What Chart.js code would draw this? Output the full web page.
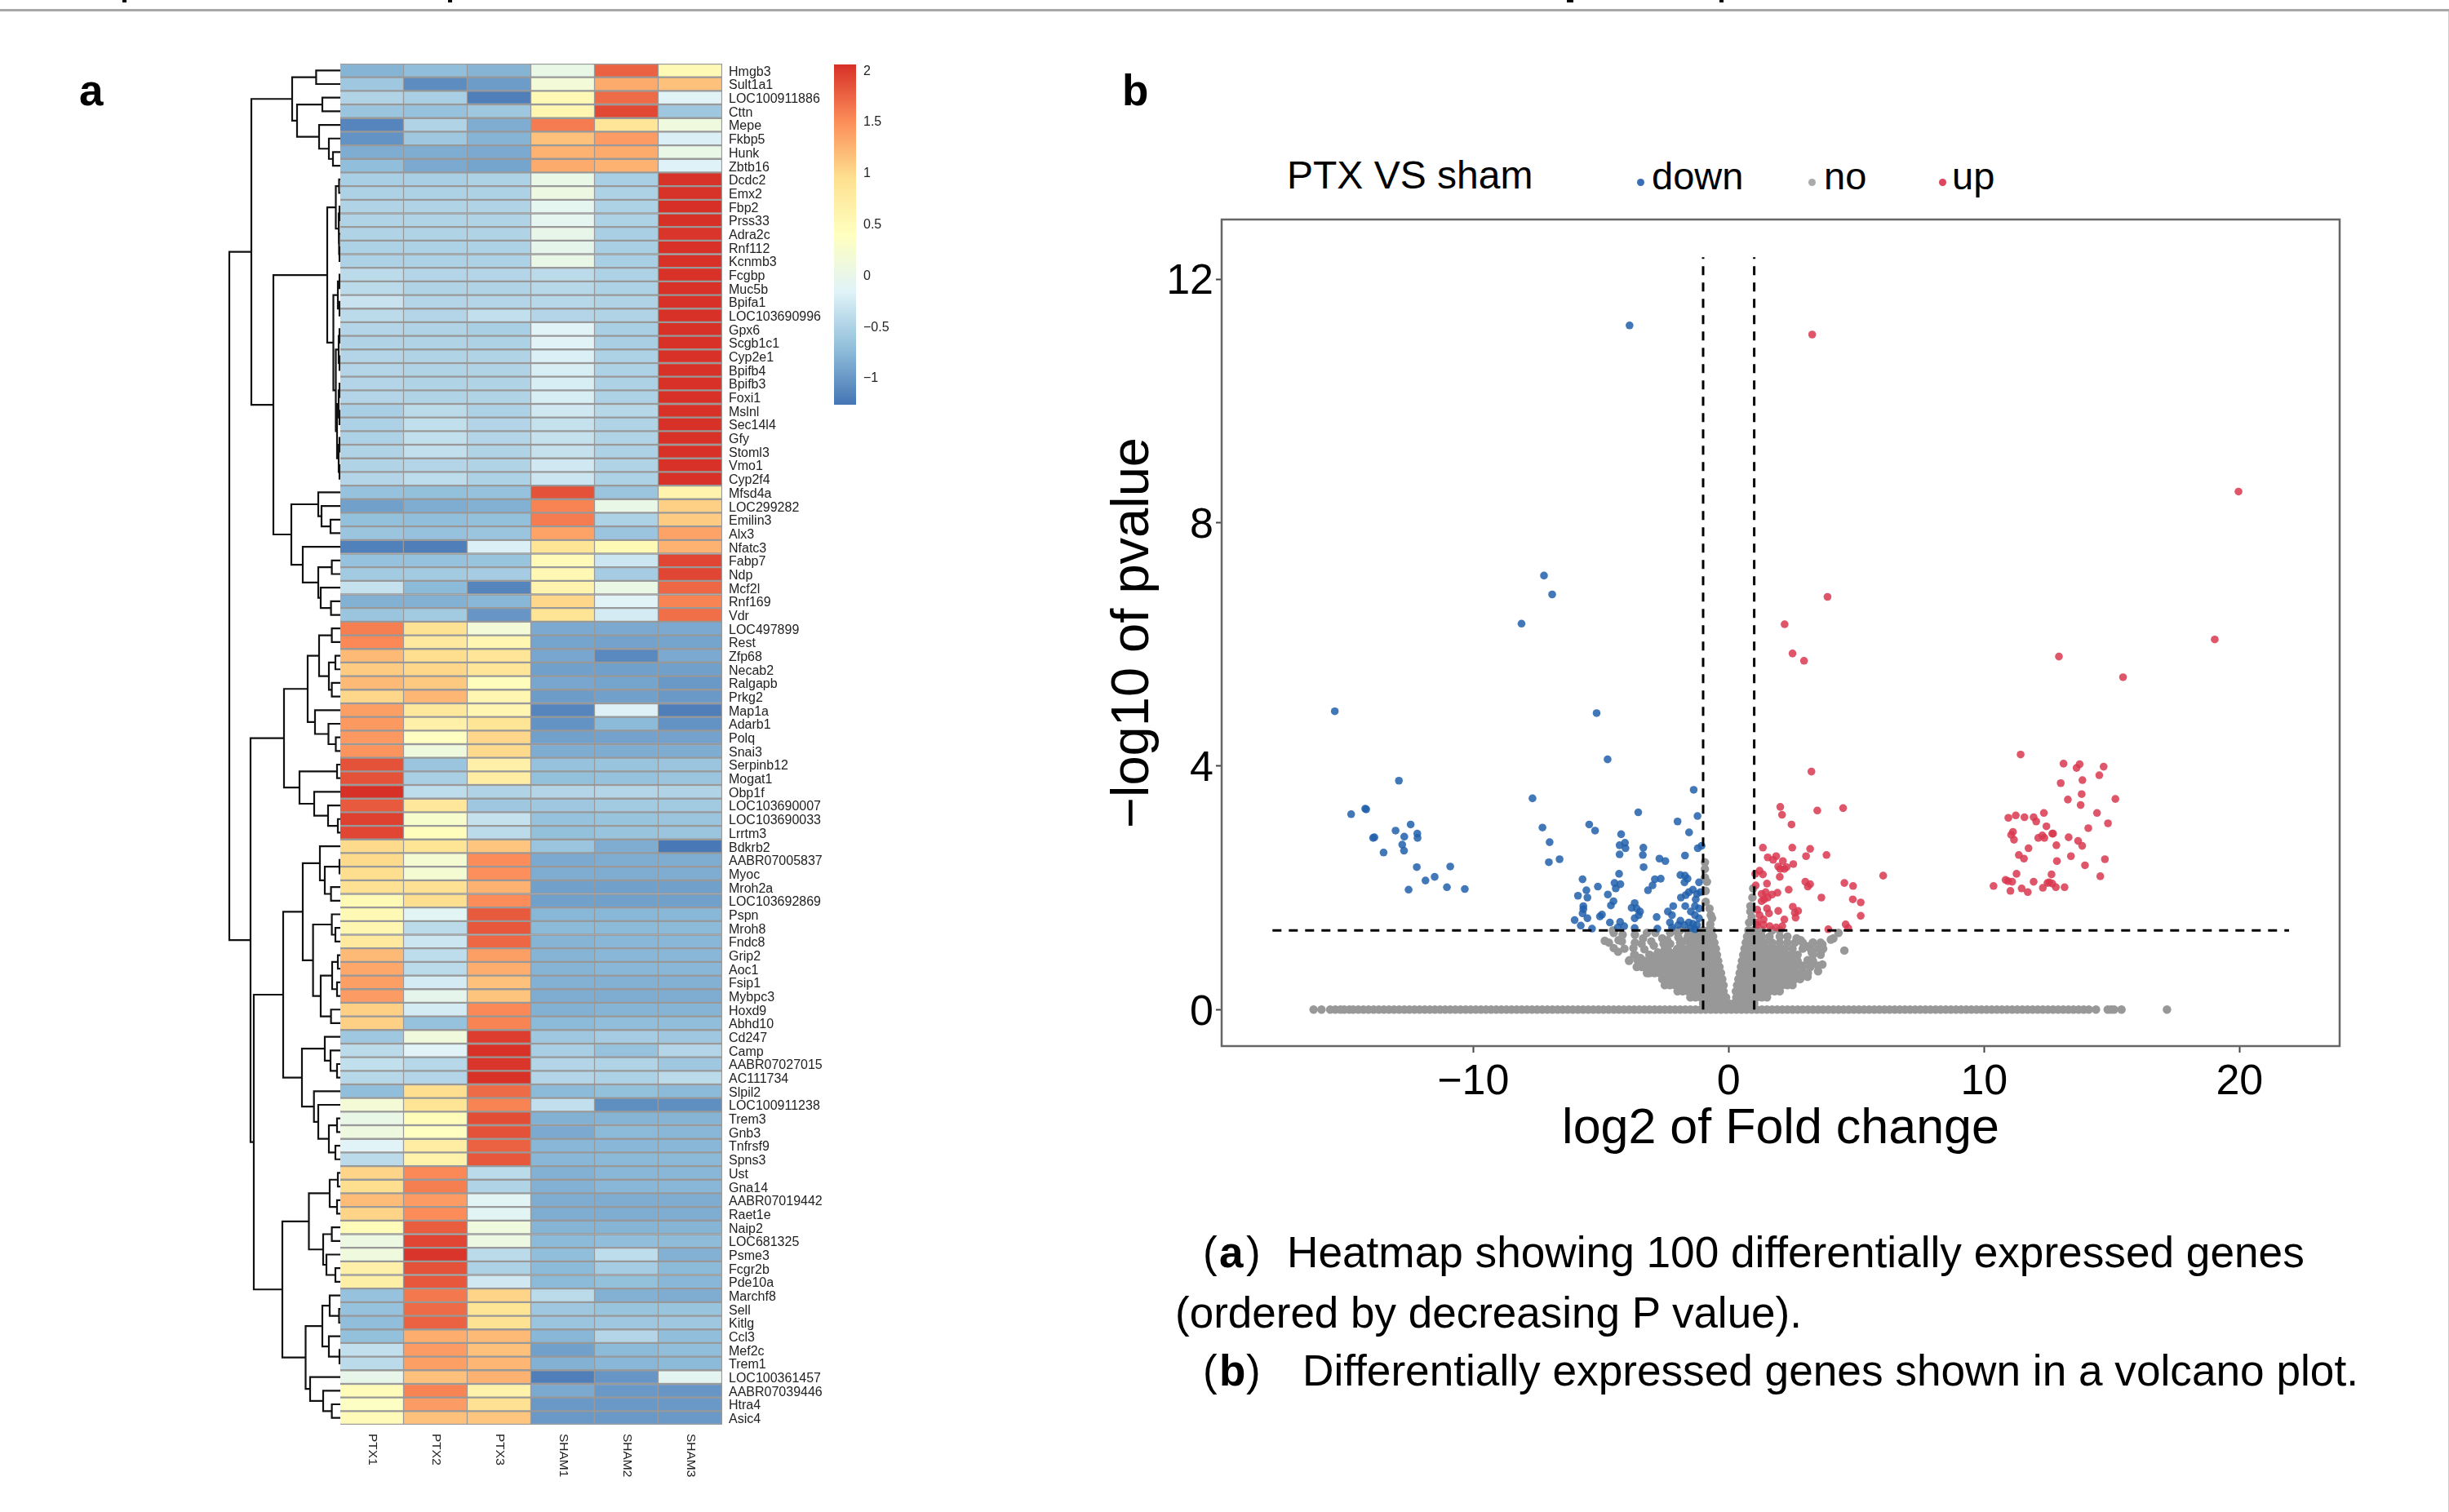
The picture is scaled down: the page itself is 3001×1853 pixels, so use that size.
<!DOCTYPE html>
<html>
<head>
<meta charset="utf-8">
<title>PTX VS sham</title>
<script src="https://cdn.jsdelivr.net/npm/chart.js@4"></script>
<style>
  html, body { margin: 0; background: #fff; }
  #page { position: relative; width: 3001px; height: 1853px; overflow: hidden; background: #fff; font-family: "Liberation Sans", sans-serif; color: #000; }
  canvas { position: absolute; }
  .txt { position: absolute; white-space: pre; line-height: 1; }
  .box { position: absolute; }
</style>
</head>
<body>
<div id="page">
  <canvas id="dendro" style="left:269px;top:78px" width="148" height="1668"></canvas>
  <canvas id="heat" style="left:417px;top:78px" width="600" height="1740"></canvas>
  <canvas id="colorbar" style="left:1022px;top:72px" width="90" height="430"></canvas>
  <canvas id="volcano" style="left:1350px;top:260px" width="1530" height="1161"></canvas>
</div>
<script>
var samples = ["PTX1", "PTX2", "PTX3", "SHAM1", "SHAM2", "SHAM3"];
var genes = ["Hmgb3", "Sult1a1", "LOC100911886", "Cttn", "Mepe", "Fkbp5", "Hunk", "Zbtb16", "Dcdc2", "Emx2",
  "Fbp2", "Prss33", "Adra2c", "Rnf112", "Kcnmb3", "Fcgbp", "Muc5b", "Bpifa1", "LOC103690996", "Gpx6",
  "Scgb1c1", "Cyp2e1", "Bpifb4", "Bpifb3", "Foxi1", "Mslnl", "Sec14l4", "Gfy", "Stoml3", "Vmo1",
  "Cyp2f4", "Mfsd4a", "LOC299282", "Emilin3", "Alx3", "Nfatc3", "Fabp7", "Ndp", "Mcf2l", "Rnf169",
  "Vdr", "LOC497899", "Rest", "Zfp68", "Necab2", "Ralgapb", "Prkg2", "Map1a", "Adarb1", "Polq",
  "Snai3", "Serpinb12", "Mogat1", "Obp1f", "LOC103690007", "LOC103690033", "Lrrtm3", "Bdkrb2", "AABR07005837", "Myoc",
  "Mroh2a", "LOC103692869", "Pspn", "Mroh8", "Fndc8", "Grip2", "Aoc1", "Fsip1", "Mybpc3", "Hoxd9",
  "Abhd10", "Cd247", "Camp", "AABR07027015", "AC111734", "Slpil2", "LOC100911238", "Trem3", "Gnb3", "Tnfrsf9",
  "Spns3", "Ust", "Gna14", "AABR07019442", "Raet1e", "Naip2", "LOC681325", "Psme3", "Fcgr2b", "Pde10a",
  "Marchf8", "Sell", "Kitlg", "Ccl3", "Mef2c", "Trem1", "LOC100361457", "AABR07039446", "Htra4", "Asic4"];

// z scores, one row per gene
var heatRows = [
  [-.8,-.72,-.8,0,1.75,.5], [-.62,-1.1,-.98,.15,1.3,1.15], [-.5,-.55,-1.2,.5,1.7,-.15], [-.65,-.68,-.62,.55,1.9,-.62],
  [-1.15,-.5,-.85,1.6,.85,.1], [-1.05,-.62,-.8,1.15,1.4,-.2], [-.85,-.85,-.88,1.25,1.3,0], [-.72,-.88,-.92,1.3,1.25,-.17],
  [-.55,-.55,-.52,0,-.55,2.03], [-.52,-.52,-.52,.05,-.52,2.03], [-.5,-.5,-.5,-.08,-.52,2.05], [-.5,-.5,-.5,-.08,-.52,2.05],
  [-.5,-.5,-.5,-.02,-.55,2.02], [-.52,-.52,-.52,-.05,-.55,2.04], [-.52,-.52,-.52,0,-.55,2.04], [-.42,-.48,-.48,-.42,-.52,2.04],
  [-.42,-.5,-.5,-.45,-.52,2.04], [-.33,-.48,-.48,-.45,-.5,2.04], [-.42,-.48,-.38,-.48,-.5,2.04], [-.48,-.5,-.55,-.15,-.55,2.04],
  [-.5,-.5,-.52,-.15,-.55,2.04], [-.48,-.5,-.5,-.2,-.52,2.04], [-.48,-.5,-.5,-.22,-.52,2.04], [-.48,-.5,-.5,-.22,-.52,2.04],
  [-.48,-.5,-.5,-.22,-.52,2.04], [-.55,-.42,-.52,-.28,-.45,2.04], [-.52,-.38,-.48,-.35,-.5,2.04], [-.52,-.38,-.48,-.35,-.5,2.04],
  [-.5,-.38,-.5,-.35,-.52,2.04], [-.5,-.48,-.5,-.28,-.5,2.04], [-.48,-.4,-.52,-.3,-.52,2.04], [-.68,-.7,-.68,1.85,-.65,.6],
  [-.95,-.85,-.82,1.55,0,1.05], [-.7,-.72,-.7,1.6,-.52,1.08], [-.65,-.68,-.65,1.35,-.65,1.35], [-1.18,-1.2,-.2,.88,.5,1.25],
  [-.68,-.68,-.66,.48,-.3,1.92], [-.6,-.6,-.58,.52,-.58,1.92], [-.35,-.75,-1.15,.6,.02,1.72], [-.82,-.82,-.78,1,-.15,1.55],
  [-.65,-.6,-1.02,.88,-.25,1.68], [1.58,.9,.15,-.88,-.88,-.88], [1.52,.78,.55,-.92,-.93,-.92], [1.2,.95,.85,-.9,-1.12,-.88],
  [1.08,1,.85,-.95,-.95,-.95], [1.2,1.1,.42,-.9,-.92,-1], [1,1.22,.55,-.98,-.95,-1], [1.38,.8,.55,-1.15,-.18,-1.2],
  [1.42,.65,.88,-1.05,-.75,-1.05], [1.42,.38,1,-.95,-.93,-.93], [1.45,.1,.98,-.85,-.85,-.85], [1.85,-.65,.65,-.68,-.66,-.65],
  [1.85,-.55,.72,-.7,-.68,-.65], [2.05,-.4,-.5,-.48,-.48,-.5], [1.8,.82,-.62,-.62,-.6,-.6], [1.95,.25,-.35,-.68,-.66,-.65],
  [1.92,.42,-.42,-.7,-.66,-.65], [.98,.88,1.12,-.65,-.85,-1.25], [.98,.2,1.5,-.88,-.85,-.85], [.95,.2,1.48,-.85,-.85,-.85],
  [.92,.92,1.25,-.95,-.95,-.95], [.5,.95,1.5,-.95,-.95,-.95], [.5,-.12,1.8,-.78,-.78,-.78], [.55,-.42,1.82,-.75,-.75,-.75],
  [.78,-.3,1.72,-.8,-.78,-.78], [1.2,-.4,1.38,-.8,-.78,-.78], [1.32,-.42,1.28,-.8,-.78,-.78], [1.38,-.25,1.15,-.82,-.82,-.82],
  [1.4,-.05,1.13,-.85,-.85,-.85], [1.05,-.25,1.52,-.82,-.8,-.8], [1.05,-.68,1.55,-.75,-.72,-.72], [-.62,.12,1.97,-.62,-.58,-.62],
  [-.42,-.15,2.04,-.55,-.68,-.48], [-.38,-.45,2.02,-.48,-.5,-.62], [-.45,-.48,2.04,-.48,-.52,-.42], [-.72,.95,1.7,-.75,-.7,-.75],
  [.18,.88,1.55,-.38,-1.08,-1.08], [0,.45,1.88,-.82,-.8,-.8], [.08,.38,1.85,-.88,-.75,-.78], [-.15,.72,1.75,-.78,-.78,-.78],
  [-.42,.62,1.82,-.78,-.76,-.76], [1.02,1.52,-.42,-.82,-.78,-.78], [.95,1.58,-.5,-.82,-.78,-.78], [1.18,1.4,-.12,-.85,-.85,-.85],
  [1.02,1.5,-.12,-.85,-.85,-.85], [.45,1.78,.1,-.8,-.8,-.8], [.05,1.92,.05,-.75,-.72,-.74], [.1,2.02,-.42,-.72,-.4,-.82],
  [.65,1.85,-.52,-.75,-.58,-.75], [.68,1.82,-.28,-.75,-.7,-.78], [-.68,1.62,1.02,-.42,-.82,-.85], [-.68,1.7,.88,-.62,-.66,-.66],
  [-.72,1.75,.9,-.65,-.62,-.62], [-.7,1.28,1.2,-.78,-.48,-.72], [-.38,1.4,1.15,-.95,-.75,-.72], [-.42,1.38,1.22,-.82,-.78,-.75],
  [-.02,1.15,1.25,-1.2,-1.02,-.1], [.45,1.55,.62,-.88,-1,-1.02], [.35,1.4,.92,-1,-1,-1], [.48,1.15,1.12,-1,-1,-1]
];

// row dendrogram: [merge height, child, child], a number is a row index
var rowTree = [136,
  [109,
    [59, [29.6,0,1], [53,[22,2,3],[26,4,[14,5,[9,6,7]]]]],
    [82,
      [16, [5.5,[1.5,8,9],[2,[1,10,11],[1.5,12,[1,13,14]]]],
           [8.5,[3,[1,15,16],[1,17,18]],[5.5,[2,[1,19,20],[1,21,22]],[4,[2,[1,23,24],[1,25,26]],[2,[1,27,28],[1,29,30]]]]]],
      [60, [27,31,[23,32,[12,33,34]]], [46,35,[27,[10.4,36,37],[24,38,[11.4,39,40]]]]]
    ]
  ],
  [110,
    [69, [40,[26,[10.4,41,42],[14,[6,43,44],[10.4,45,46]]],[31,47,[14.5,48,[5.5,49,50]]]],
         [50,[4,51,52],[32,53,[15,54,[3,55,56]]]]],
    [106,
      [70, [46,[25,57,[19,[1,58,59],[11.4,60,61]]],[33.4,[10.4,62,[6,63,64]],[24,[10,[3,65,66],[4,67,68]],[11.4,69,70]]]],
           [47,[19,71,[12,72,[4,73,74]]],[32.3,75,[27,76,[14,[4,77,78],[6,79,80]]]]]],
      [71, [38.5,[13,[3,81,82],[4,83,84]],[21,[10.4,85,86],[17,87,[6,88,89]]]],
           [42.5,[22,[13,90,[1.5,91,92]],[14,93,[1,94,95]]],[37,96,[21,97,[10.4,98,99]]]]]
    ]
  ]
];

var colorbarTicks = [-1, -0.5, 0, 0.5, 1, 1.5, 2];
var colorbarRange = [-1.27, 2.05];
var heatPalette = ["#4575b4", "#91bfdb", "#e0f3f8", "#ffffbf", "#fee090", "#fc8d59", "#d73027"];

var downPoints = [[-3.88,11.24],[-7.23,7.13],[-6.91,6.82],[-8.11,6.34],[-15.42,4.9],[-5.17,4.87],[-4.74,4.11],[-12.91,3.76],[-7.68,3.47],[-1.37,3.61],
  [-14.23,3.3],[-14.19,3.29],[-14.78,3.21],[-3.54,3.24],[-1.22,3.18],[-2,3.09],[-12.45,3.04],[-13.04,2.94],[-7.29,2.99],[-5.46,3.04],
  [-5.23,2.94],[-1.55,2.91],[-4.21,2.88],[-12.19,2.89],[-12.18,2.82],[-12.7,2.84],[-13.92,2.82],[-13.87,2.83],[-12.78,2.71],[-12.71,2.61],
  [-13.51,2.58],[-7.01,2.75],[-4.27,2.7],[-4.06,2.74],[-4.04,2.65],[-3.34,2.66],[-3.36,2.54],[-4.27,2.55],[-1.71,2.53],[-1.21,2.65],
  [-1.06,2.69],[-2.71,2.48],[-2.48,2.44],[-6.62,2.47],[-7.04,2.42],[-10.9,2.35],[-12.21,2.34],[-3.33,2.34],[-11.51,2.18],[-11.87,2.12],
  [-11.03,2.01],[-12.53,1.97],[-10.33,1.98],[-4.29,2.23],[-5.72,2.14],[-1.89,2.21],[-1.71,2.2],[-1.61,2.15],[-2.89,2.14],[-2.66,2.15],
  [-1.73,2.09],[-1.16,2.09],[-4.47,2.08],[-4.24,2.06],[-4.42,1.99],[-2.98,2.04],[-5.12,2.02],[-5.57,1.96],[-3.16,1.96],[-4.73,1.89],
  [-5.9,1.87],[-5.53,1.84],[-1.87,1.84],[-1.4,1.97],[-1.56,1.93],[-1.68,1.88],[-1.24,1.9],[-1.11,1.93],[-4.51,1.78],[-4.61,1.71],
  [-5.69,1.7],[-5.69,1.65],[-5.72,1.58],[-5.53,1.5],[-3.68,1.75],[-3.8,1.67],[-3.6,1.66],[-3.47,1.61],[-3.68,1.5],[-3.52,1.55],
  [-4.96,1.56],[-5.04,1.53],[-6.03,1.47],[-5.79,1.38],[-5.35,1.33],[-4.65,1.43],[-4.25,1.44],[-4.09,1.37],[-4.34,1.35],[-3.68,1.34],
  [-2.82,1.52],[-2.79,1.33],[-2.38,1.61],[-2.17,1.7],[-2.22,1.55],[-2.3,1.43],[-2.22,1.35],[-1.7,1.7],[-1.29,1.81],[-1.32,1.7],
  [-1.16,1.66],[-1.48,1.61],[-1.32,1.55],[-1.89,1.46],[-1.56,1.43],[-1.16,1.5],[-1.4,1.41],[-1.73,1.39],[-1.24,1.39],[-1.97,1.39],
  [-1.48,1.34],[-1.32,1.32]];

var upPoints = [[3.27,11.09],[19.96,8.51],[3.87,6.78],[2.19,6.33],[19.03,6.08],[2.5,5.85],[2.95,5.73],[12.93,5.8],[15.44,5.46],
  [3.24,3.91],[2.02,3.33],[2.09,3.2],[3.47,3.27],[4.48,3.31],[2.46,3.04],[1.34,2.66],[2.49,2.66],[3.19,2.64],[3.03,2.52],[3.83,2.54],
  [1.53,2.5],[1.74,2.46],[1.86,2.52],[2.12,2.44],[2.53,2.39],[1.94,2.35],[2.02,2.31],[2.18,2.31],[2.27,2.34],[1.21,2.28],
  [1.04,2.23],[1.34,2.22],[2,2.18],[1.5,2.07],[3,2.1],[3.19,2.06],[3.1,2.02],[4.53,2.08],[4.87,2.03],[1.06,2.04],
  [2.35,1.97],[1.29,1.9],[1.45,1.93],[1.7,1.89],[1.91,1.92],[1.29,1.78],[1.53,1.84],[1.39,1.81],[3.63,1.84],[4.86,1.81],
  [5.17,1.76],[1.12,1.64],[1.5,1.66],[1.94,1.62],[2.51,1.69],[2.72,1.62],[2.59,1.59],[1.21,1.55],[1.58,1.58],[1.37,1.48],
  [1.12,1.43],[2.18,1.48],[2.62,1.51],[5.17,1.54],[1.37,1.39],[1.61,1.37],[1.86,1.35],[2.1,1.37],[1.12,1.39],[3.9,1.32],
  [4.58,1.4],[4.68,1.34],[6.05,2.2],
  [11.43,4.19],[13.11,4.04],[13.74,4.03],[13.62,3.97],[14.68,3.99],[14.51,3.85],[13.85,3.77],[13,3.72],[13.82,3.54],[13.28,3.45],
  [15.14,3.46],[13.78,3.36],[14.42,3.23],[12.34,3.23],[11.24,3.19],[10.95,3.15],[11.58,3.16],[11.94,3.16],[12.04,3.09],[14.85,3.06],
  [12.44,3.01],[14.08,2.98],[11.13,2.92],[11.06,2.87],[11.17,2.79],[12.67,2.89],[12.7,2.89],[12.12,2.82],[12.28,2.86],[12.36,2.82],
  [13.31,2.83],[13.68,2.77],[13.84,2.69],[12.83,2.7],[11.74,2.65],[11.36,2.54],[11.56,2.48],[13.4,2.52],[12.85,2.44],[14.73,2.47],
  [13.95,2.37],[14.55,2.19],[11.27,2.23],[12.64,2.22],[10.84,2.13],[10.94,2.11],[11.1,2.1],[11.94,2.1],[12.48,2.08],[12.55,2.09],
  [12.67,2.07],[10.37,2.03],[11.03,1.95],[11.47,1.99],[11.71,1.93],[12.3,2],[12.81,2.01],[13.15,2.01]];

// grey genes sitting at p = 1 along the baseline
var noBaselineX = [-16.25,-15.94,-15.6,-15.4,-15.2,-15.05,-14.85,-14.7,-14.5,-14.3,-14.1,-13.9,-13.7,-13.5,-13.3,-13.1,-12.9,-12.7,-12.5,-12.3,
  -12.1,-11.9,-11.7,-11.5,-11.3,-11.1,-10.9,-10.7,-10.5,-10.3,-10.1,-9.9,-9.7,-9.5,-9.3,-9.1,-8.9,-8.7,-8.5,-8.3,
  -8.1,-7.9,-7.7,-7.5,-7.3,-7.1,-6.9,-6.7,-6.5,-6.3,-6.1,-5.9,-5.7,-5.5,-5.3,-5.1,-4.9,-4.7,-4.5,-4.3,
  -4.1,-3.9,-3.7,-3.5,-3.3,-3.1,-2.9,-2.7,-2.5,-2.3,-2.1,-1.9,-1.7,-1.5,-1.3,-1.1,-.9,-.7,-.5,-.3,
  -.1,.1,.3,.5,.7,.9,1.1,1.3,1.5,1.7,1.9,2.1,2.3,2.5,2.7,2.9,3.1,3.3,3.5,3.7,
  3.9,4.1,4.3,4.5,4.7,4.9,5.1,5.3,5.5,5.7,5.9,6.1,6.3,6.5,6.7,6.9,7.1,7.3,7.5,7.7,
  7.9,8.1,8.3,8.5,8.7,8.9,9.1,9.3,9.5,9.7,9.9,10.1,10.3,10.5,10.7,10.9,11.1,11.3,11.5,11.7,
  11.9,12.1,12.3,12.5,12.7,12.9,13.1,13.3,13.5,13.7,13.9,14.1,14.38,14.84,14.97,15.09,15.38,17.16];

// grey volcano body: [y, [x, x, ...]] read level by level
var noLevels = [
  [.1,[-1,-.8,-.6,-.4,-.2,0,.2,.4,.6,.8,1]],
  [.2,[-1.5,-1.3,-1.1,-.9,-.7,-.5,-.3,-.1,.3,.5,.7,.9,1.1,1.3,1.5]],
  [.3,[-2,-1.8,-1.6,-1.4,-1.2,-1,-.8,-.6,-.4,-.2,.28,.4,.6,.8,1,1.2,1.4,1.6,1.8,2]],
  [.4,[-2.5,-2.3,-2.1,-1.9,-1.7,-1.5,-1.3,-1.1,-.9,-.7,-.5,-.3,-.2,.33,.5,.7,.9,1.1,1.3,1.5,1.7,1.9,2.1,2.3,2.5]],
  [.5,[-2.6,-2.4,-2.2,-2,-1.8,-1.6,-1.4,-1.2,-1,-.8,-.6,-.4,-.25,.38,.6,.8,1,1.2,1.4,1.6,1.8,2,2.2,2.4,2.6,2.8]],
  [.6,[-3.2,-3.1,-2.9,-2.7,-2.5,-2.3,-2.1,-1.9,-1.7,-1.5,-1.3,-1.1,-.9,-.7,-.5,-.3,.43,.5,.7,.9,1.1,1.3,1.5,1.7,1.9,2.1,2.3,2.5,2.7,2.9,3.1]],
  [.7,[-3.6,-3.4,-3.2,-3,-2.8,-2.6,-2.4,-2.2,-2,-1.8,-1.6,-1.4,-1.2,-1,-.8,-.6,-.36,.48,.6,.8,1,1.2,1.4,1.6,1.8,2,2.2,2.4,2.6,2.9,3.2]],
  [.8,[-3.9,-3.5,-3.3,-3.1,-2.9,-2.7,-2.5,-2.3,-2.1,-1.9,-1.7,-1.5,-1.3,-1.1,-.9,-.7,-.5,-.41,.52,.7,.9,1.1,1.3,1.5,1.7,1.9,2.1,2.3,2.5,2.7,3.1,3.3]],
  [.9,[-3.7,-3.1,-2.8,-2.5,-2.3,-2.1,-1.9,-1.7,-1.5,-1.3,-1.1,-.9,-.7,-.46,.57,.7,.9,1.1,1.3,1.5,1.7,1.9,2.1,2.3,2.5,2.7,3.3,3.6]],
  [1,[-2.4,-2,-1.8,-1.6,-1.4,-1.2,-1,-.8,-.6,-.5,.62,.8,1,1.2,1.4,1.6,1.8,2,2.2,2.5,2.9,3.2,3.5,3.7]],
  [1.1,[-1.9,-1.5,-1.3,-1.1,-.9,-.7,-.56,.67,.8,1,1.2,1.4,1.7,2,2.3,2.6,2.9,3.3,3.6]],
  [1.2,[-1.6,-1.4,-1.2,-1,-.8,-.61,.72,.9,1.1,1.3,1.6,2]],
  [1.3,[-2.2,-1.9,-1.6,-1.4,-1.2,-1,-.8,-.66,.77,.95,1.1,1.3,1.7,2]]
];

var noScatter = [[-4.85,1.13],[-4.69,1.1],[-4.5,1.01],[-4.33,.95],[-4.08,1],[-4.18,1.12],[-4.31,1.14],[-4.15,1.23],[-4.5,1.26],[-4.53,1.3],
  [-3.67,1.23],[-3.35,1.17],[-3.2,1.26],[-2.87,1.26],[-3.03,1.12],[-3.67,1.1],[-3.73,1.01],[-3.41,1.08],[-2.93,1.05],[-3.3,.99],
  [-2.6,1.17],[-2.29,1.26],[-2.02,1.28],[-2.4,1.14],[-2.55,1.08],[-2.29,1.08],[-1.97,1.19],[-3.89,.81],[-3.57,.81],[-3.67,.9],
  [-3.46,.85],[-3.09,.9],[-2.77,.94],[-2.5,.99],[-2.66,.85],[-2.29,.94],[-2.02,.99],[-1.76,1.12],
  [-.93,2.42],[-.93,2.31],[-.93,2.17],[-.85,2.1],[-.9,1.95],[-.9,1.77],[-.75,1.66],[-.7,1.55],[-.65,1.5],[-.72,1.4],
  [.96,1.99],[.93,1.84],[.85,1.7],[.85,1.61],[.9,1.52],[.8,1.43],
  [4.1,1.17],[4,1.15],[4.3,1.26],[4.53,.97],[3.67,.74],[3.5,.63],[3.5,.72],[3.09,.54],[3.09,.81],[2.88,.72],
  [3.25,.94],[3.62,.96],[3.67,1.07],[3.09,1.04],[2.66,1.17],[2.82,1.14],[2.3,1.2],[3.3,1.1]];

var xTicks = [-10, 0, 10, 20];
var yTicks = [0, 4, 8, 12];
var fcCuts = [-1, 1];
var fcCutSpan = [0, 12.36];
var pCut = 1.3;
var pCutSpan = [-17.86, 21.94];

Chart.defaults.font.family = '"Liberation Sans", Arial, sans-serif';
Chart.defaults.color = "#000";
Chart.defaults.animation = false;
Chart.defaults.responsive = false;
Chart.defaults.plugins.legend.display = false;
Chart.defaults.plugins.tooltip.enabled = false;

function heatColor(z) {
  var t = (z - colorbarRange[0]) / (colorbarRange[1] - colorbarRange[0]) * (heatPalette.length - 1);
  t = Math.max(0, Math.min(heatPalette.length - 1.001, t));
  var i = Math.floor(t), f = t - i;
  var a = heatPalette[i], b = heatPalette[i + 1], out = [];
  for (var c = 0; c < 3; c++) {
    var ca = parseInt(a.substr(1 + c * 2, 2), 16), cb = parseInt(b.substr(1 + c * 2, 2), 16);
    out.push(Math.round(ca + (cb - ca) * f));
  }
  return "rgb(" + out.join(",") + ")";
}

// keep the plot area where the canvas says, no room for half a tick label
function fixBox(width, height) {
  return function (s) {
    if (width) s.width = width;
    if (height) s.height = height;
    s.paddingTop = 0;
    s.paddingBottom = 0;
    s.paddingLeft = 0;
    s.paddingRight = 0;
  };
}

// dendrogram
var dendroSegments = [];
function walkTree(node) {
  if (typeof node === "number") return { pos: node, h: 0 };
  var a = walkTree(node[1]), b = walkTree(node[2]);
  dendroSegments.push({ x: a.h, y: a.pos }, { x: node[0], y: a.pos }, { x: node[0], y: b.pos }, { x: b.h, y: b.pos }, { x: NaN, y: NaN });
  return { pos: (a.pos + b.pos) / 2, h: node[0] };
}
walkTree(rowTree);

new Chart("dendro", {
  type: "scatter",
  data: { datasets: [{ data: dendroSegments, showLine: true, borderColor: "#111", borderWidth: 2.2, pointRadius: 0, spanGaps: false, clip: false }] },
  options: {
    layout: { padding: 0 },
    scales: {
      x: { display: false, min: 0, max: 148, reverse: true },
      y: { display: false, min: -0.5, max: 99.5, reverse: true }
    }
  }
});

// heatmap as a stacked horizontal bar, every cell one unit wide
var sampleLabels = {
  id: "sampleLabels",
  afterDraw: function (chart) {
    var ctx = chart.ctx, sx = chart.scales.x;
    ctx.save();
    ctx.font = '15.5px "Liberation Sans"';
    ctx.fillStyle = "#222";
    ctx.textBaseline = "middle";
    samples.forEach(function (s, i) {
      ctx.save();
      ctx.translate(sx.getPixelForValue(i + 0.5), chart.chartArea.bottom + 11);
      ctx.rotate(Math.PI / 2);
      ctx.fillText(s, 0, 0);
      ctx.restore();
    });
    ctx.restore();
  }
};

new Chart("heat", {
  type: "bar",
  data: {
    labels: genes,
    datasets: samples.map(function (s, col) {
      return {
        label: s,
        data: heatRows.map(function () { return 1; }),
        backgroundColor: heatRows.map(function (r) { return heatColor(r[col]); }),
        borderColor: "#999",
        borderWidth: 1.5,
        barPercentage: 1,
        categoryPercentage: 1
      };
    })
  },
  options: {
    indexAxis: "y",
    layout: { padding: 0 },
    scales: {
      x: { stacked: true, min: 0, max: 6, grid: { display: false }, border: { display: false }, ticks: { display: false },
        afterFit: fixBox(0, 72) },
      y: { stacked: true, position: "right", grid: { display: false, drawTicks: false }, border: { display: false },
        ticks: { autoSkip: false, padding: 8, labelOffset: 2, font: { size: 16 }, color: "#222" },
        afterFit: fixBox(132, 0) }
    }
  },
  plugins: [sampleLabels]
});

// colour key
new Chart("colorbar", {
  type: "bar",
  data: {
    labels: ["key"],
    datasets: [{
      data: [colorbarRange],
      barPercentage: 1,
      categoryPercentage: 1,
      backgroundColor: function (c) {
        var area = c.chart.chartArea;
        if (!area) return "#999";
        var g = c.chart.ctx.createLinearGradient(0, area.bottom, 0, area.top);
        heatPalette.forEach(function (col, i) { g.addColorStop(i / (heatPalette.length - 1), col); });
        return g;
      }
    }]
  },
  options: {
    layout: { padding: { top: 7, bottom: 6 } },
    scales: {
      x: { display: false },
      y: { position: "right", min: colorbarRange[0], max: colorbarRange[1], grid: { display: false, drawTicks: false }, border: { display: false },
        afterBuildTicks: function (s) { s.ticks = colorbarTicks.map(function (v) { return { value: v }; }); },
        ticks: { padding: 9, labelOffset: 2, font: { size: 16 }, color: "#222",
          callback: function (v) { return String(v).replace("-", "\u2212"); } },
        afterFit: fixBox(63, 0) }
    }
  }
});

// volcano
var frame = {
  id: "frame",
  beforeDatasetsDraw: function (chart) {
    var a = chart.chartArea, ctx = chart.ctx;
    ctx.save();
    ctx.strokeStyle = "#666";
    ctx.lineWidth = 2.5;
    ctx.strokeRect(a.left, a.top, a.right - a.left, a.bottom - a.top);
    ctx.restore();
  }
};

function toXY(p) { return { x: p[0], y: p[1] }; }
var noPoints = noBaselineX.map(function (x) { return { x: x, y: 0 }; });
noLevels.forEach(function (lvl) {
  lvl[1].forEach(function (x) { noPoints.push({ x: x, y: lvl[0] }); });
});
noPoints = noPoints.concat(noScatter.map(toXY));

function dashed(points) {
  return { data: points, showLine: true, borderColor: "#000", borderWidth: 3, borderDash: [11, 9], pointRadius: 0, order: 0 };
}
function dots(points, colour, order, radius) {
  return { data: points, backgroundColor: colour, borderWidth: 0, pointRadius: radius, order: order };
}

new Chart("volcano", {
  type: "scatter",
  data: {
    datasets: [
      dashed([{ x: fcCuts[0], y: fcCutSpan[0] }, { x: fcCuts[0], y: fcCutSpan[1] }]),
      dashed([{ x: fcCuts[1], y: fcCutSpan[0] }, { x: fcCuts[1], y: fcCutSpan[1] }]),
      dashed([{ x: pCutSpan[0], y: pCut }, { x: pCutSpan[1], y: pCut }]),
      dots(upPoints.map(toXY), "rgba(217,56,80,.85)", 1, 4.8),
      dots(downPoints.map(toXY), "rgba(33,96,172,.85)", 2, 4.8),
      dots(noPoints, "rgb(152,152,152)", 3, 5.2)
    ]
  },
  options: {
    layout: { padding: { top: 9, right: 13 } },
    scales: {
      x: {
        min: -19.85, max: 23.92,
        grid: { drawOnChartArea: false, tickLength: 8, tickColor: "#444", tickWidth: 2 },
        border: { display: false },
        afterBuildTicks: function (s) { s.ticks = xTicks.map(function (v) { return { value: v }; }); },
        ticks: { font: { size: 52 }, padding: 5, color: "#000", maxRotation: 0,
          callback: function (v) { return String(v).replace("-", "\u2212"); } },
        title: { display: true, text: "log2 of Fold change", font: { size: 61 }, padding: 0, color: "#000" },
        afterFit: fixBox(0, 139)
      },
      y: {
        min: -0.6, max: 12.98,
        grid: { drawOnChartArea: false, tickLength: 7, tickColor: "#444", tickWidth: 2 },
        border: { display: false },
        afterBuildTicks: function (s) { s.ticks = yTicks.map(function (v) { return { value: v }; }); },
        ticks: { font: { size: 52 }, padding: 3, labelOffset: 4, color: "#000" },
        title: { display: true, text: "\u2212log10 of pvalue", font: { size: 65 }, padding: 0, color: "#000" },
        afterFit: fixBox(147, 0)
      }
    }
  },
  plugins: [frame]
});

// page text and the little bits around the panels
var page = document.getElementById("page");
function addText(str, x, baseline, size, bold) {
  var d = document.createElement("div");
  d.className = "txt";
  d.textContent = str;
  d.style.left = x + "px";
  d.style.top = (baseline - 0.8465 * size) + "px";
  d.style.fontSize = size + "px";
  if (bold) d.style.fontWeight = "bold";
  page.appendChild(d);
}
function addBox(x, y, w, h, colour, round) {
  var d = document.createElement("div");
  d.className = "box";
  d.style.cssText = "left:" + x + "px;top:" + y + "px;width:" + w + "px;height:" + h + "px;background:" + colour + (round ? ";border-radius:50%" : "");
  page.appendChild(d);
}

addText("a", 97, 129, 53, true);
addText("b", 1375, 129, 53, true);

addText("PTX VS sham", 1577, 232, 48);
addText("down", 2024, 232, 47);
addText("no", 2235, 232, 47);
addText("up", 2392, 232, 47);
addBox(2006, 219, 9, 9, "rgb(60,110,180)", true);
addBox(2216, 219, 9, 9, "#aaa", true);
addBox(2376, 219, 9, 9, "rgb(222,70,95)", true);

addText("(", 1474, 1553, 53);
addText("a", 1494, 1553, 53, true);
addText(")", 1527, 1553, 53);
addText("Heatmap showing 100 differentially expressed genes", 1577, 1553, 53.2);
addText("(ordered by decreasing P value).", 1440, 1627, 53);
addText("(", 1474, 1698, 53);
addText("b", 1494, 1698, 53, true);
addText(")", 1527, 1698, 53);
addText("Differentially expressed genes shown in a volcano plot.", 1596, 1698, 53.2);

addBox(0, 11, 3001, 3, "#a8a8a8");
addBox(3000, 14, 1, 1839, "#ccc");
addBox(150, 0, 5, 3, "#000");
addBox(549, 0, 5, 3, "#000");
addBox(1920, 0, 8, 3, "#000");
addBox(2107, 0, 5, 3, "#000");
</script>
</body>
</html>
